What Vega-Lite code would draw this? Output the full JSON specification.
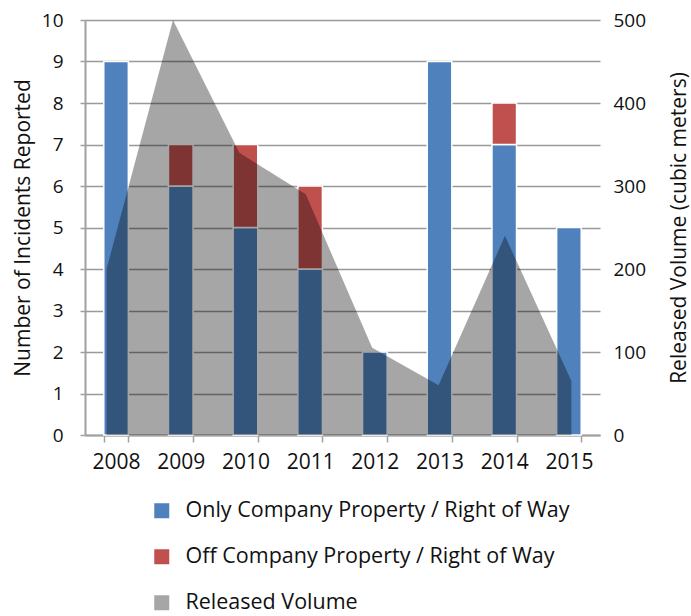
{
  "$schema": "https://vega.github.io/schema/vega-lite/v6.json",
  "autosize": {"type": "none"},
  "padding": {"left": 85, "top": 20, "right": 91, "bottom": 181},
  "width": 515,
  "height": 415,
  "config": {
    "font": "Open Sans",
    "view": {"stroke": null},
    "axis": {"labelColor": "#111111", "titleColor": "#111111", "titleFontWeight": "normal", "labelFontSize": 19, "titleFontSize": 21}
  },
  "datasets": {
    "bars": [
      {"year": "2008", "series": "Only Company Property / Right of Way", "count": 9},
      {"year": "2009", "series": "Only Company Property / Right of Way", "count": 6},
      {"year": "2009", "series": "Off Company Property / Right of Way", "count": 1},
      {"year": "2010", "series": "Only Company Property / Right of Way", "count": 5},
      {"year": "2010", "series": "Off Company Property / Right of Way", "count": 2},
      {"year": "2011", "series": "Only Company Property / Right of Way", "count": 4},
      {"year": "2011", "series": "Off Company Property / Right of Way", "count": 2},
      {"year": "2012", "series": "Only Company Property / Right of Way", "count": 2},
      {"year": "2013", "series": "Only Company Property / Right of Way", "count": 9},
      {"year": "2014", "series": "Only Company Property / Right of Way", "count": 7},
      {"year": "2014", "series": "Off Company Property / Right of Way", "count": 1},
      {"year": "2015", "series": "Only Company Property / Right of Way", "count": 5}
    ],
    "volume": [
      {"year": 2008, "volume": 200},
      {"year": 2009, "volume": 500},
      {"year": 2010, "volume": 340},
      {"year": 2011, "volume": 290},
      {"year": 2012, "volume": 105},
      {"year": 2013, "volume": 60},
      {"year": 2014, "volume": 240},
      {"year": 2015, "volume": 65}
    ]
  },
  "layer": [
    {
      "data": {"name": "bars"},
      "mark": {"type": "bar", "stroke": "white", "strokeWidth": 1.5},
      "encoding": {
        "x": {
          "field": "year", "type": "ordinal",
          "scale": {"paddingInner": 0.62, "paddingOuter": 0.29},
          "axis": {"title": null, "labelAngle": 0, "labelFontSize": 21, "tickBand": "extent", "tickSize": 7, "tickColor": "#a0a0a0", "tickWidth": 1.5, "domainColor": "#a0a0a0", "domainWidth": 2, "labelPadding": 9, "grid": false}
        },
        "y": {
          "field": "count", "type": "quantitative", "stack": "zero",
          "scale": {"domain": [0, 10]},
          "axis": {"title": "Number of Incidents Reported", "values": [0,1,2,3,4,5,6,7,8,9,10], "tickSize": 5, "tickColor": "#a0a0a0", "tickWidth": 1.5, "domainColor": "#a0a0a0", "domainWidth": 2, "gridColor": "#999999", "gridWidth": 1.5, "labelPadding": 17, "titlePadding": 8}
        },
        "color": {
          "field": "series", "type": "nominal",
          "scale": {"domain": ["Only Company Property / Right of Way", "Off Company Property / Right of Way", "Released Volume"], "range": ["#4F81BD", "#C0504D", "#A6A6A6"]},
          "legend": {"title": null, "orient": "none", "legendX": 66, "legendY": 480, "direction": "vertical", "symbolType": "square", "symbolSize": 225, "symbolStrokeWidth": 0, "labelFontSize": 21.5, "labelColor": "#111111", "labelOffset": 13, "rowPadding": 23, "labelLimit": 600}
        },
        "order": {"field": "series", "sort": "descending"}
      }
    },
    {
      "data": {"name": "volume"},
      "mark": {"type": "area", "color": "black", "opacity": 0.35},
      "encoding": {
        "x": {"field": "year", "type": "quantitative", "scale": {"domain": [2007.675, 2015.431], "nice": false, "zero": false}, "axis": null},
        "y": {"field": "volume", "type": "quantitative", "scale": {"domain": [0, 500]},
          "axis": {"orient": "right", "title": "Released Volume (cubic meters)", "titleAngle": -90, "values": [0,100,200,300,400,500], "grid": false, "ticks": false, "domain": false, "labelPadding": 13, "titlePadding": 44}
        }
      }
    }
  ],
  "resolve": {"scale": {"x": "independent", "y": "independent"}}
}
